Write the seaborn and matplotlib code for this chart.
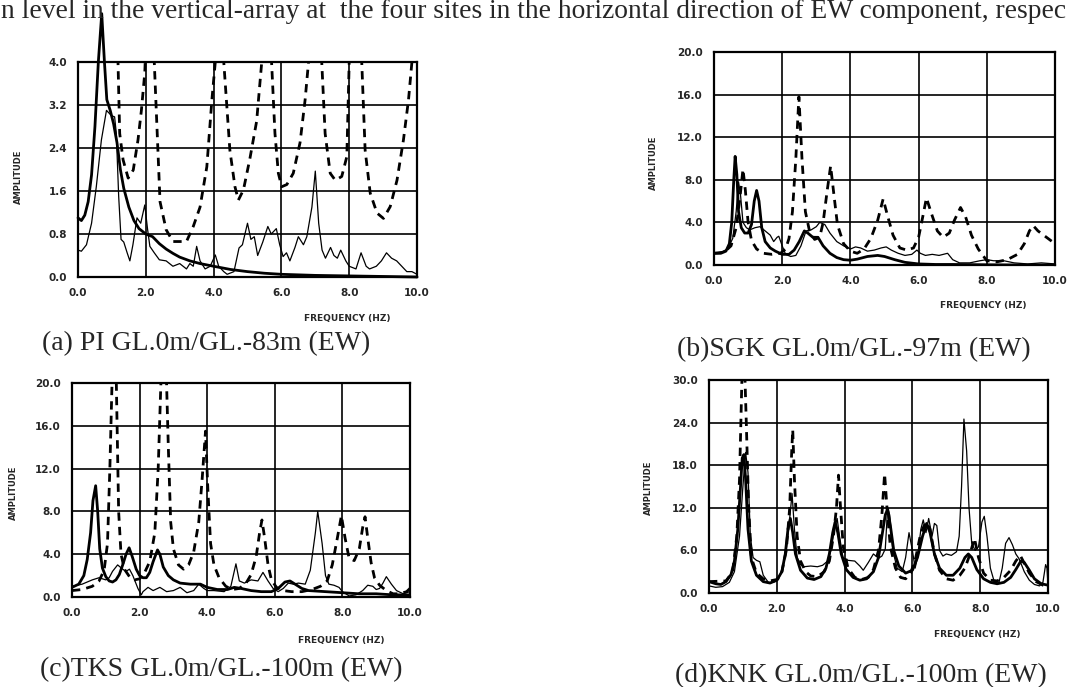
import matplotlib
matplotlib.use("Agg")
import matplotlib.pyplot as plt
import seaborn as sns

# Spectral ratios (frequency in Hz, amplitude)
# (a) PI
a_obs_f = [0.0, 0.1, 0.25, 0.4, 0.54, 0.69, 0.84, 0.99, 1.08, 1.13, 1.2, 1.27, 1.35, 1.45, 1.53, 1.62, 1.74, 1.85, 1.97, 2.05, 2.12,
           2.25, 2.4, 2.6, 2.8, 3.0, 3.2, 3.3, 3.4, 3.5, 3.6, 3.75, 3.9, 4.05, 4.15, 4.3, 4.4, 4.6, 4.75, 4.85, 5.0, 5.1, 5.2,
           5.3, 5.45, 5.6, 5.7, 5.85, 5.95, 6.05, 6.15, 6.25, 6.4, 6.5, 6.65, 6.75, 6.9, 7.0, 7.1, 7.2, 7.3, 7.45, 7.55, 7.65,
           7.75, 7.9, 8.0, 8.2, 8.35, 8.5, 8.6, 8.8, 8.95, 9.1, 9.25, 9.4, 9.55, 9.7, 9.85, 10.0]
a_obs_v = [0.5, 0.48, 0.6, 1.0, 1.68, 2.55, 3.1, 3.0, 2.98, 2.67, 1.5, 0.7, 0.65, 0.45, 0.3, 0.6, 1.1, 1.0, 1.34, 0.9, 0.57,
           0.45, 0.32, 0.3, 0.2, 0.25, 0.15, 0.25, 0.2, 0.57, 0.3, 0.15, 0.2, 0.41, 0.2, 0.1, 0.05, 0.1, 0.54, 0.6, 1.0, 0.7, 0.75,
           0.4, 0.65, 0.94, 0.8, 0.9, 0.6, 0.38, 0.45, 0.3, 0.55, 0.75, 0.6, 0.75, 1.3, 1.97, 1.0, 0.5, 0.35, 0.55, 0.4, 0.35,
           0.5, 0.3, 0.2, 0.15, 0.45, 0.2, 0.15, 0.2, 0.3, 0.45, 0.35, 0.3, 0.2, 0.1, 0.1, 0.05]
a_thk_f = [0.0, 0.1, 0.2, 0.3, 0.4, 0.5, 0.6, 0.7, 0.78, 0.85, 0.95, 1.05, 1.15, 1.25, 1.35, 1.5, 1.65, 1.8, 2.0, 2.2, 2.4,
           2.6, 2.8, 3.0, 3.3, 3.6, 4.0, 4.5, 5.0, 5.5, 6.0, 7.0, 8.0, 9.0, 10.0]
a_thk_v = [1.1, 1.05, 1.15, 1.4, 1.9, 2.8, 4.0, 4.9, 4.0, 3.3, 3.1, 2.85, 2.5, 2.0, 1.65, 1.3, 1.05, 0.9, 0.8, 0.75, 0.62,
           0.52, 0.44, 0.37, 0.3, 0.25, 0.2, 0.14, 0.1, 0.07, 0.05, 0.03, 0.02, 0.01, 0.0]
a_dsh_f = [1.1, 1.18, 1.23, 1.33, 1.48, 1.63, 1.77, 1.87, 1.97, 2.1, 2.25, 2.42, 2.6, 2.8, 3.2, 3.4, 3.6, 3.8, 3.95, 4.05,
           4.17, 4.3, 4.48, 4.63, 4.73, 4.88, 5.07, 5.27, 5.42, 5.56, 5.71, 5.81, 5.91, 6.01, 6.16, 6.35, 6.55, 6.7, 6.8,
           7.0, 7.19, 7.29, 7.44, 7.59, 7.78, 7.93, 8.0, 8.18, 8.37, 8.47, 8.62, 8.82, 9.01, 9.21, 9.41, 9.6, 9.75, 9.85, 10.0]
a_dsh_v = [6.0, 4.0, 2.67, 2.18, 1.84, 1.99, 2.55, 3.1, 3.8, 6.0, 4.0, 1.4, 0.88, 0.66, 0.66, 0.94, 1.3, 2.05, 3.3, 4.0,
           6.0, 4.0, 2.36, 1.68, 1.43, 1.62, 2.2, 2.9, 4.0, 6.0, 4.0, 2.67, 1.93, 1.68, 1.72, 1.93, 2.5, 3.3, 4.0,
           6.0, 4.0, 2.67, 1.93, 1.8, 1.87, 2.24, 4.0, 6.0, 4.0, 2.36, 1.56, 1.19, 1.09, 1.31, 1.8, 2.55, 3.3, 4.0, 5.0]

# (b) SGK
b_obs_f = [0.0, 0.2, 0.4, 0.55, 0.65, 0.72, 0.78, 0.85, 0.95, 1.05, 1.2, 1.35, 1.5, 1.65, 1.75, 1.85, 1.9, 2.0, 2.1, 2.25,
           2.4, 2.55, 2.7, 2.85, 3.0, 3.1, 3.25, 3.4, 3.6, 3.8, 4.0, 4.15, 4.3, 4.5, 4.7, 4.9, 5.05, 5.2, 5.4, 5.6, 5.8, 5.95,
           6.05, 6.2, 6.4, 6.6, 6.85, 7.0, 7.2, 7.5, 7.8, 8.0, 8.2, 8.5, 8.8, 9.2, 9.6, 10.0]
b_obs_v = [1.1, 1.2, 1.5, 2.5, 5.0, 7.8, 6.5, 4.0, 3.5, 3.3, 3.5, 3.6, 3.2, 2.8, 2.2, 2.6, 2.7, 1.8, 1.0, 0.8,
           0.9, 1.8, 3.2, 3.3, 3.6, 4.0, 3.8, 3.0, 2.2, 1.8, 1.5, 1.7, 1.6, 1.3, 1.4, 1.6, 1.7, 1.4, 1.1, 0.9, 1.0, 1.4,
           1.1, 0.9, 1.0, 0.9, 1.1, 0.5, 0.2, 0.2, 0.4, 0.5, 0.4, 0.4, 0.2, 0.1, 0.2, 0.1]
b_thk_f = [0.0, 0.2, 0.35, 0.45, 0.52, 0.58, 0.62, 0.67, 0.72, 0.8, 0.9, 1.0, 1.1, 1.18, 1.25, 1.32, 1.4, 1.5, 1.65, 1.8,
           2.0, 2.2, 2.35, 2.5, 2.65, 2.75, 2.9, 3.05, 3.2, 3.4, 3.6, 3.8, 4.0, 4.2, 4.5, 4.8, 5.0, 5.3, 5.6, 6.0, 6.5, 7.0,
           8.0, 9.0, 10.0]
b_thk_v = [1.1, 1.1, 1.3, 2.0, 4.0, 8.0, 10.2, 8.5, 5.0, 3.5, 3.0, 3.0, 3.8, 6.0, 7.0, 6.0, 3.5, 2.2, 1.6, 1.3,
           1.0, 1.0, 1.4, 2.2, 3.2, 3.0, 2.6, 2.6, 1.8, 1.1, 0.7, 0.5, 0.45, 0.55, 0.8, 0.9, 0.8, 0.5, 0.25, 0.1, 0.05, 0.05,
           0.02, 0.0, 0.0]
b_dsh_f = [0.0, 0.3, 0.5, 0.65, 0.75, 0.85, 0.92, 1.0, 1.1, 1.25, 1.45, 1.7, 1.95, 2.1, 2.2, 2.3, 2.4, 2.49, 2.58, 2.68,
           2.8, 2.95, 3.1, 3.2, 3.32, 3.42, 3.52, 3.62, 3.8, 4.0, 4.2, 4.4, 4.6, 4.8, 4.96, 5.1, 5.25, 5.45, 5.65, 5.85,
           6.0, 6.12, 6.23, 6.38, 6.55, 6.72, 6.9, 7.05, 7.23, 7.38, 7.55, 7.75, 8.0, 8.3, 8.6, 8.9, 9.1, 9.25, 9.36,
           9.5, 9.75, 10.0]
b_dsh_v = [1.1, 1.2, 1.8, 3.5, 6.0, 9.0, 7.0, 4.0, 2.3, 1.5, 1.1, 1.0, 1.1, 1.5, 2.5, 5.0, 10.0, 15.8, 10.0, 5.0,
           3.2, 2.4, 2.6, 4.0, 7.0, 9.3, 6.5, 3.8, 2.0, 1.3, 1.1, 1.5, 2.5, 4.2, 6.2, 4.5, 2.8, 1.6, 1.4, 1.6,
           2.6, 4.5, 6.3, 4.8, 3.2, 2.6, 3.0, 4.2, 5.4, 4.5, 2.8, 1.5, 0.4, 0.3, 0.5, 1.0, 2.0, 3.2, 3.7,
           3.2, 2.6, 2.0]

# (c) TKS
c_obs_f = [0.0, 0.3, 0.6, 0.8, 1.0, 1.1, 1.2, 1.35, 1.5, 1.6, 1.7, 1.8, 1.95, 2.05, 2.1, 2.25, 2.4, 2.6, 2.8, 3.0, 3.2,
           3.4, 3.6, 3.75, 3.9, 4.0, 4.2, 4.5, 4.7, 4.85, 4.95, 5.1, 5.3, 5.5, 5.65, 5.8, 5.95, 6.1, 6.25, 6.4, 6.55, 6.7,
           6.9, 7.05, 7.2, 7.27, 7.4, 7.5, 7.6, 7.75, 7.9, 8.0, 8.2, 8.4, 8.6, 8.75, 8.9, 9.0, 9.1, 9.2, 9.3, 9.45, 9.6,
           9.8, 10.0]
c_obs_v = [1.0, 1.2, 1.6, 1.8, 1.6, 1.8, 2.4, 3.0, 2.6, 2.4, 2.6, 2.0, 0.8, 0.2, 0.5, 0.9, 0.6, 0.9, 0.5, 0.6, 0.9,
           0.4, 0.6, 1.2, 0.8, 0.6, 0.6, 0.5, 1.0, 3.1, 1.5, 1.3, 1.6, 1.5, 2.3, 1.5, 0.8, 0.5, 0.8, 1.3, 1.2, 1.3,
           1.2, 2.5, 6.0, 8.0, 5.0, 2.0, 1.2, 1.1, 0.9, 0.5, 0.1, 0.2, 0.6, 1.1, 1.0, 0.7, 0.8, 1.3, 1.9, 1.2, 0.6,
           0.3, 0.5]
c_thk_f = [0.0, 0.2, 0.35, 0.45, 0.55, 0.62, 0.7, 0.76, 0.82, 0.9, 1.0, 1.1, 1.2, 1.3, 1.4, 1.5, 1.6, 1.69, 1.78, 1.9,
           2.0, 2.1, 2.2, 2.3, 2.4, 2.53, 2.6, 2.7, 2.85, 3.0, 3.2, 3.5, 3.8, 4.0, 4.3, 4.6, 4.8, 5.0, 5.3, 5.6, 5.9, 6.1,
           6.3, 6.45, 6.6, 6.8, 7.0, 7.5, 8.0, 8.5, 9.0, 9.5, 10.0]
c_thk_v = [0.9, 1.2, 2.0, 3.5, 6.0, 9.0, 10.4, 8.0, 4.5, 2.7, 1.9, 1.5, 1.4, 1.6, 2.1, 3.0, 4.0, 4.6, 3.8, 2.6,
           2.0, 1.8, 1.8, 2.3, 3.3, 4.4, 4.0, 2.8, 2.0, 1.6, 1.3, 1.2, 1.2, 0.9, 0.7, 0.7, 0.9, 0.8, 0.6, 0.5, 0.5, 0.8,
           1.4, 1.5, 1.2, 0.8, 0.6, 0.5, 0.4, 0.3, 0.3, 0.2, 0.2]
c_dsh_f = [0.0, 0.3, 0.6, 0.8, 0.95, 1.05, 1.12, 1.2, 1.3, 1.38, 1.45, 1.55, 1.7, 1.85, 2.0, 2.15, 2.3, 2.45, 2.55, 2.65,
           2.78, 2.85, 2.92, 3.0, 3.15, 3.3, 3.45, 3.6, 3.75, 3.85, 3.95, 4.02, 4.1, 4.2, 4.35, 4.55, 4.75, 4.95, 5.15, 5.3,
           5.45, 5.55, 5.62, 5.7, 5.8, 5.9, 6.05, 6.25, 6.5, 6.8, 7.1, 7.35, 7.55, 7.7, 7.85, 7.97, 8.08, 8.2, 8.35, 8.5,
           8.6, 8.67, 8.75, 8.85, 8.95, 9.1, 9.3, 9.5, 9.7, 9.9, 10.0]
c_dsh_v = [0.6, 0.7, 1.0, 1.5, 2.5, 5.0, 12.0, 22.0, 22.0, 8.0, 4.0, 2.6, 1.9, 1.6, 1.7, 2.3, 3.3, 6.0, 12.0, 22.0,
           22.0, 14.0, 7.0, 4.5, 3.0, 2.6, 3.0, 4.2, 7.0, 11.0, 15.5, 10.0, 5.0, 3.0, 1.8, 1.0, 0.7, 0.8, 1.3, 2.1,
           3.8, 6.0, 7.2, 5.5, 3.0, 1.6, 0.9, 0.6, 0.5, 0.5, 0.7, 1.0, 1.5, 3.0, 5.5, 7.6, 5.5, 3.6, 3.4, 4.5,
           6.5, 7.5, 5.5, 3.2, 1.8, 1.1, 0.6, 0.3, 0.3, 0.5, 0.8]

# (d) KNK
d_obs_f = [0.0, 0.2, 0.4, 0.6, 0.75, 0.9, 1.0, 1.08, 1.15, 1.22, 1.3, 1.4, 1.5, 1.6, 1.75, 1.9, 2.05, 2.15, 2.25, 2.35,
           2.45, 2.52, 2.6, 2.7, 2.8, 3.0, 3.2, 3.35, 3.5, 3.6, 3.7, 3.78, 3.85, 3.95, 4.1, 4.3, 4.45, 4.55, 4.7, 4.85, 5.0,
           5.1, 5.2, 5.27, 5.33, 5.42, 5.55, 5.7, 5.8, 5.9, 6.0, 6.08, 6.15, 6.25, 6.32, 6.4, 6.48, 6.58, 6.65, 6.72, 6.8,
           6.9, 7.0, 7.15, 7.3, 7.38, 7.45, 7.52, 7.6, 7.67, 7.75, 7.85, 7.95, 8.05, 8.12, 8.2, 8.3, 8.42, 8.55, 8.65, 8.75,
           8.85, 8.95, 9.05, 9.15, 9.3, 9.45, 9.6, 9.75, 9.85, 9.93, 9.97, 10.0]
d_obs_v = [1.0, 0.8, 0.9, 1.5, 3.0, 8.0, 15.0, 19.8, 17.0, 8.0, 5.0, 4.6, 4.4, 2.5, 1.5, 1.5, 1.9, 3.3, 5.0, 9.0,
           14.0, 9.0, 5.0, 4.0, 3.7, 3.8, 3.7, 3.9, 4.5, 6.0, 9.0, 10.5, 8.0, 5.0, 4.6, 4.5, 3.8, 3.2, 4.3, 5.5, 4.9,
           5.2, 6.2, 12.0, 11.0, 6.0, 3.5, 3.0, 5.0, 8.5, 6.0, 3.5, 5.0, 9.0, 10.3, 8.5, 10.5, 8.0, 9.8, 9.5, 6.0,
           5.2, 5.5, 5.3, 5.8, 8.0, 15.0, 24.5, 20.0, 12.0, 7.0, 6.0, 6.5, 10.0, 10.8, 8.0, 3.5, 1.5, 1.4, 3.5, 7.0,
           7.8, 6.8, 5.5, 4.8, 3.0, 1.8, 1.2, 1.0, 1.5, 4.0, 3.5, 1.2]
d_thk_f = [0.0, 0.2, 0.35, 0.5, 0.65, 0.75, 0.85, 0.93, 0.98, 1.03, 1.08, 1.15, 1.25, 1.4, 1.6, 1.8, 2.0, 2.15, 2.25, 2.33,
           2.4, 2.47, 2.55, 2.7, 2.9, 3.1, 3.3, 3.45, 3.55, 3.65, 3.72, 3.8, 3.9, 4.05, 4.25, 4.45, 4.65, 4.85, 5.0, 5.1,
           5.2, 5.27, 5.35, 5.45, 5.6, 5.8, 6.0, 6.15, 6.3, 6.42, 6.52, 6.65, 6.8, 7.0, 7.2, 7.4, 7.55, 7.65, 7.75, 7.9,
           8.1, 8.3, 8.5, 8.7, 8.9, 9.05, 9.2, 9.3, 9.45, 9.6, 9.8, 10.0]
d_thk_v = [1.6, 1.3, 1.2, 1.6, 2.6, 4.5, 9.0, 15.0, 19.0, 19.5, 16.0, 9.0, 4.5, 2.5, 1.6, 1.4, 1.8, 3.0, 5.5, 9.0,
           10.5, 8.5, 5.5, 3.2, 2.1, 1.9, 2.3, 3.5, 5.5, 8.5, 10.0, 8.5, 5.5, 3.3, 2.2, 1.8, 2.0, 3.0, 5.0, 8.0,
           11.0, 11.8, 9.5, 6.0, 3.8, 2.8, 3.2, 5.0, 8.0, 9.8, 8.5, 5.5, 3.5, 2.5, 2.5, 3.5, 5.0, 5.5, 5.0, 3.3,
           2.0, 1.5, 1.3, 1.5, 2.2, 3.3, 4.5, 4.3, 3.2, 2.0, 1.3, 1.1]
d_dsh_f = [0.0, 0.5, 0.7, 0.82, 0.9, 0.95, 0.98, 1.05, 1.1, 1.17, 1.25, 1.4, 1.6, 1.8, 2.0, 2.15, 2.28, 2.38, 2.44, 2.47,
           2.52, 2.6, 2.7, 2.85, 3.0, 3.2, 3.4, 3.55, 3.67, 3.76, 3.82, 3.88, 3.96, 4.1, 4.3, 4.5, 4.7, 4.85, 5.0, 5.1,
           5.18, 5.25, 5.35, 5.5, 5.65, 5.8, 5.95, 6.1, 6.25, 6.4, 6.52, 6.65, 6.8, 7.0, 7.2, 7.4, 7.55, 7.7, 7.83, 7.95,
           8.1, 8.3, 8.5, 8.7, 8.9, 9.05, 9.18, 9.3, 9.45, 9.65, 9.85, 10.0]
d_dsh_v = [1.6, 1.7, 3.0, 8.0, 16.0, 26.0, 32.0, 32.0, 24.0, 12.0, 5.0, 2.8, 2.0, 1.7, 1.9, 3.0, 6.0, 12.0, 20.0, 23.0,
           16.0, 8.0, 4.5, 3.0, 2.4, 2.3, 3.0, 4.5, 8.0, 12.0, 16.6, 12.0, 6.5, 3.5, 2.2, 1.9, 2.2, 3.3, 6.0, 11.0,
           16.8, 12.0, 6.5, 3.5, 2.2, 2.0, 2.8, 5.0, 8.5, 10.0, 9.0, 5.5, 3.2, 2.0, 1.8, 2.5, 3.5, 5.5, 7.7, 5.0,
           2.8, 1.8, 1.7, 2.2, 3.2, 4.5, 5.3, 4.2, 2.8, 1.6, 1.1, 1.0]

freq_ticks = [0, 2, 4, 6, 8, 10]

W, H = 1081, 687
sns.set_style("white")
plt.rcParams['font.family'] = ['DejaVu Sans']

fig = plt.figure(figsize=(W / 100, H / 100), dpi=100)


def box(left, top, right, bottom):
    return [left / W, 1 - bottom / H, (right - left) / W, (bottom - top) / H]


def panel(rect, obs, thk, dsh, ymax, ystep, thick_clip=True):
    ax = fig.add_axes(box(*rect))
    sns.lineplot(x=obs[0], y=obs[1], ax=ax, color='black', lw=0.9, estimator=None, sort=False)
    sns.lineplot(x=thk[0], y=thk[1], ax=ax, color='black', lw=2.0, estimator=None, sort=False,
                 clip_on=thick_clip)
    sns.lineplot(x=dsh[0], y=dsh[1], ax=ax, color='black', lw=2.0, estimator=None, sort=False,
                 linestyle=(0, (3.0, 2.2)))
    ax.set_xlim(0, 10)
    ax.set_ylim(0, ymax)
    ax.set_xticks(freq_ticks)
    ax.set_xticklabels(['%.1f' % t for t in freq_ticks])
    yt = [round(i * ystep, 1) for i in range(6)]
    ax.set_yticks(yt)
    ax.set_yticklabels(['%.1f' % t for t in yt])
    ax.set_xlabel('')
    ax.set_ylabel('')
    ax.grid(True, color='black', lw=1.2)
    ax.tick_params(length=0, labelsize=7.5, pad=8)
    for lab in ax.get_xticklabels() + ax.get_yticklabels():
        lab.set_fontweight('bold')
    for sp in ax.spines.values():
        sp.set_color('black')
        sp.set_linewidth(1.6)
    return ax


panel((78, 62, 417, 277), (a_obs_f, a_obs_v), (a_thk_f, a_thk_v), (a_dsh_f, a_dsh_v), 4.0, 0.8, thick_clip=False)
panel((714, 52, 1055, 265), (b_obs_f, b_obs_v), (b_thk_f, b_thk_v), (b_dsh_f, b_dsh_v), 20.0, 4.0)
panel((72, 383, 410, 597), (c_obs_f, c_obs_v), (c_thk_f, c_thk_v), (c_dsh_f, c_dsh_v), 20.0, 4.0)
panel((709, 380, 1048, 593), (d_obs_f, d_obs_v), (d_thk_f, d_thk_v), (d_dsh_f, d_dsh_v), 30.0, 6.0)


def ftext(x, y, s, **kw):
    fig.text(x / W, 1 - y / H, s, **kw)


# axis titles
for x, y in [(390, 318), (1027, 306), (385, 641), (1020, 634)]:
    ftext(x, y, 'FREQUENCY (HZ)', ha='right', va='center', fontsize=6.5, fontweight='bold')
for x, y in [(18, 177), (653, 163), (13, 493), (648, 488)]:
    ftext(x, y, 'AMPLITUDE', ha='center', va='center', rotation=90, fontsize=6, fontweight='bold')

# captions and the cut-off body text line
serif = ['Liberation Serif', 'DejaVu Serif']
ftext(1, 18, 'n level in the vertical-array at  the four sites in the horizontal direction of EW component, respec',
      ha='left', va='baseline', fontsize=19.8, family=serif)
ftext(42, 350, '(a) PI GL.0m/GL.-83m (EW)', ha='left', va='baseline', fontsize=20, family=serif)
ftext(677, 356, '(b)SGK GL.0m/GL.-97m (EW)', ha='left', va='baseline', fontsize=20, family=serif)
ftext(40, 676, '(c)TKS GL.0m/GL.-100m (EW)', ha='left', va='baseline', fontsize=20, family=serif)
ftext(675, 682, '(d)KNK GL.0m/GL.-100m (EW)', ha='left', va='baseline', fontsize=20, family=serif)

fig.savefig('out.png', dpi=100)
